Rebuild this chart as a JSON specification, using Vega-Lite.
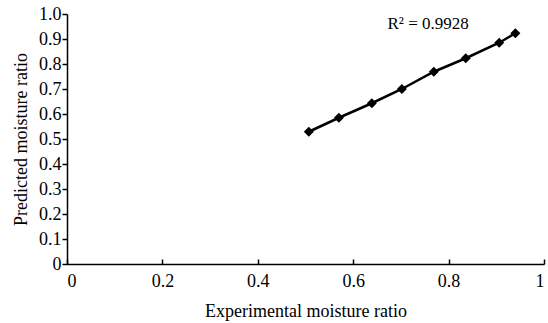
{
  "$schema": "https://vega.github.io/schema/vega-lite/v6.json",
  "autosize": "none",
  "width": 477,
  "height": 250,
  "padding": {"left": 67, "top": 14, "right": 4, "bottom": 59},
  "background": "white",
  "config": {
    "view": {"stroke": null},
    "font": "Liberation Serif",
    "axis": {
      "grid": false,
      "domainColor": "black",
      "domainWidth": 1.5,
      "tickColor": "black",
      "tickWidth": 1.5,
      "labelColor": "black",
      "titleColor": "black",
      "labelFont": "Liberation Serif",
      "titleFont": "Liberation Serif",
      "labelFontSize": 18,
      "titleFontSize": 18,
      "labelFontWeight": "normal",
      "titleFontWeight": "normal"
    }
  },
  "data": {
    "values": [
      {"exp": 0.507, "pred": 0.529},
      {"exp": 0.570, "pred": 0.585},
      {"exp": 0.639, "pred": 0.643},
      {"exp": 0.702, "pred": 0.700},
      {"exp": 0.769, "pred": 0.769},
      {"exp": 0.836, "pred": 0.823},
      {"exp": 0.906, "pred": 0.885},
      {"exp": 0.940, "pred": 0.923}
    ]
  },
  "encoding": {
    "x": {
      "field": "exp", "type": "quantitative",
      "scale": {"domain": [0, 1], "nice": false},
      "axis": {"values": [0, 0.2, 0.4, 0.6, 0.8, 1], "tickSize": -5, "labelPadding": 13, "labelExpr": "datum.value == 0 ? '0' : datum.value == 1 ? '1' : format(datum.value, '.1f')", "title": "Experimental moisture ratio", "titlePadding": 12}
    },
    "y": {
      "field": "pred", "type": "quantitative",
      "scale": {"domain": [0, 1], "nice": false},
      "axis": {"values": [0, 0.1, 0.2, 0.3, 0.4, 0.5, 0.6, 0.7, 0.8, 0.9, 1.0], "tickSize": 5, "labelPadding": 1, "labelExpr": "datum.value == 0 ? '0' : format(datum.value, '.1f')", "title": "Predicted moisture ratio", "titlePadding": 8}
    }
  },
  "layer": [
    {
      "mark": {"type": "line", "color": "black", "strokeWidth": 2.5}
    },
    {
      "mark": {"type": "point", "shape": "diamond", "filled": true, "color": "black", "size": 100, "opacity": 1}
    },
    {
      "data": {"values": [{"exp": 0.757, "pred": 0.96, "t": "R² = 0.9928"}]},
      "mark": {"type": "text", "font": "Liberation Serif", "fontSize": 17, "color": "black", "align": "center", "baseline": "middle"},
      "encoding": {
        "text": {"field": "t"}
      }
    }
  ]
}
